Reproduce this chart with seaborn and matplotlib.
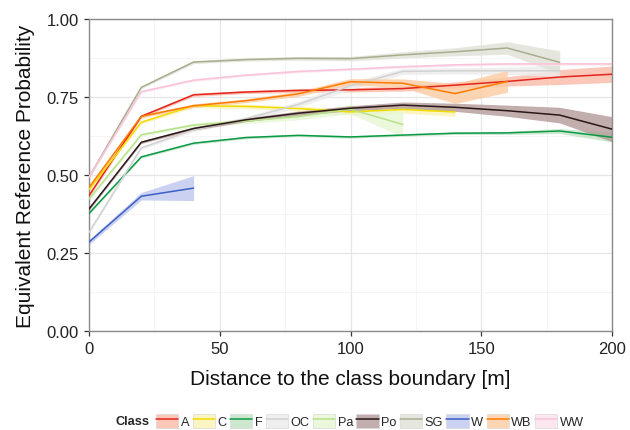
import numpy as np
import pandas as pd
import matplotlib
matplotlib.use("Agg")
import matplotlib.pyplot as plt
from matplotlib.patches import Patch
from matplotlib.lines import Line2D
from matplotlib.ticker import MultipleLocator
import seaborn as sns

# ---- data ----
classes = ["A", "C", "F", "OC", "Pa", "Po", "SG", "W", "WB", "WW"]

dist_A = [0, 20, 40, 60, 80, 100, 120, 140, 160, 180, 200]
val_A = [0.434, 0.688, 0.757, 0.766, 0.771, 0.773, 0.777, 0.788, 0.800, 0.814, 0.823]
hw_A = [0.006, 0.005, 0.005, 0.005, 0.006, 0.007, 0.008, 0.010, 0.015, 0.024, 0.026]

dist_C = [0, 20, 40, 60, 80, 100, 120, 140]
val_C = [0.453, 0.669, 0.722, 0.720, 0.713, 0.702, 0.710, 0.702]
hw_C = [0.006, 0.005, 0.006, 0.007, 0.008, 0.010, 0.012, 0.014]

dist_F = [0, 20, 40, 60, 80, 100, 120, 140, 160, 180, 200]
val_F = [0.377, 0.558, 0.602, 0.620, 0.627, 0.622, 0.628, 0.634, 0.635, 0.641, 0.621]
hw_F = [0.004, 0.004, 0.004, 0.004, 0.004, 0.004, 0.004, 0.004, 0.005, 0.008, 0.015]

dist_OC = [0, 20, 40, 60, 80, 100, 120, 140, 160, 180]
val_OC = [0.316, 0.587, 0.645, 0.680, 0.726, 0.786, 0.832, 0.834, 0.834, 0.834]
hw_OC = [0.005, 0.005, 0.006, 0.008, 0.010, 0.012, 0.010, 0.010, 0.012, 0.018]

dist_Pa = [0, 20, 40, 60, 80, 100, 120]
val_Pa = [0.423, 0.629, 0.660, 0.673, 0.687, 0.711, 0.662]
hw_Pa = [0.005, 0.005, 0.006, 0.008, 0.010, 0.015, 0.040]

dist_Po = [0, 20, 40, 60, 80, 100, 120, 140, 160, 180, 200]
val_Po = [0.391, 0.605, 0.649, 0.677, 0.698, 0.714, 0.724, 0.717, 0.706, 0.692, 0.647]
hw_Po = [0.004, 0.004, 0.005, 0.006, 0.007, 0.008, 0.010, 0.013, 0.018, 0.025, 0.040]

dist_SG = [0, 20, 40, 60, 80, 100, 120, 140, 160, 180]
val_SG = [0.493, 0.781, 0.862, 0.870, 0.874, 0.873, 0.885, 0.895, 0.907, 0.861]
hw_SG = [0.004, 0.004, 0.005, 0.005, 0.006, 0.007, 0.010, 0.013, 0.020, 0.037]

dist_W = [0, 20, 40]
val_W = [0.285, 0.432, 0.458]
hw_W = [0.008, 0.012, 0.040]

dist_WB = [0, 20, 40, 60, 80, 100, 120, 140, 160]
val_WB = [0.460, 0.688, 0.722, 0.738, 0.760, 0.799, 0.794, 0.761, 0.800]
hw_WB = [0.005, 0.005, 0.006, 0.006, 0.008, 0.010, 0.014, 0.032, 0.035]

dist_WW = [0, 20, 40, 60, 80, 100, 120, 140, 160, 180, 200]
val_WW = [0.493, 0.767, 0.804, 0.820, 0.832, 0.839, 0.847, 0.853, 0.856, 0.856, 0.856]
hw_WW = [0.004] * 11

line_colors = ["#e3241b", "#f2dc00", "#0a9a46", "#d2d2d2", "#b8e28a",
               "#2a1717", "#a8ad8e", "#3b5fc4", "#ff7b00", "#f9c3d9"]
fill_colors = ["#fbb9a6", "#fbf3b5", "#c2e1c4", "#ececec", "#e6f7d3",
               "#b39a97", "#dfe2d6", "#bfc6ee", "#fccca1", "#fce2ec"]

series = {
    "A": (dist_A, val_A, hw_A), "C": (dist_C, val_C, hw_C),
    "F": (dist_F, val_F, hw_F), "OC": (dist_OC, val_OC, hw_OC),
    "Pa": (dist_Pa, val_Pa, hw_Pa), "Po": (dist_Po, val_Po, hw_Po),
    "SG": (dist_SG, val_SG, hw_SG), "W": (dist_W, val_W, hw_W),
    "WB": (dist_WB, val_WB, hw_WB), "WW": (dist_WW, val_WW, hw_WW),
}

rows = []
for c in classes:
    d, v, h = series[c]
    for di, vi, hi in zip(d, v, h):
        rows.append({"Class": c, "dist": di, "val": vi, "lo": vi - hi, "hi": vi + hi})
df = pd.DataFrame(rows)

# ---- style ----
sns.set_theme(style="white")
plt.rcParams["font.family"] = ["Liberation Sans", "DejaVu Sans"]

fig = plt.figure(figsize=(6.3, 4.31), dpi=100)
ax = fig.add_axes([89 / 630, 1 - 332 / 431, (612 - 89) / 630, (332 - 20) / 431])

# bands
fill_alpha = 0.8
for c, fc in zip(classes, fill_colors):
    sub = df[df["Class"] == c]
    ax.fill_between(sub["dist"], sub["lo"], sub["hi"], color=fc, alpha=fill_alpha,
                    linewidth=0, zorder=1)

sns.lineplot(data=df, x="dist", y="val", hue="Class", hue_order=classes,
             palette=dict(zip(classes, line_colors)), errorbar=None,
             linewidth=1.1, ax=ax, legend=False, zorder=3)

ax.set_xlim(0, 200)
ax.set_ylim(0, 1)
ax.xaxis.set_major_locator(MultipleLocator(50))
ax.xaxis.set_minor_locator(MultipleLocator(25))
ax.yaxis.set_major_locator(MultipleLocator(0.25))
ax.yaxis.set_minor_locator(MultipleLocator(0.125))
ax.set_yticklabels([f"{t:.2f}" for t in ax.get_yticks()])
ax.grid(which="major", color="#e6e6e6", linewidth=0.9, zorder=0)
ax.grid(which="minor", color="#f4f4f4", linewidth=0.6, zorder=0)
ax.set_axisbelow(True)
for s in ax.spines.values():
    s.set_color("#8a8a8a")
    s.set_linewidth(1.0)
ax.tick_params(axis="both", which="major", direction="out", length=3.5, width=0.9,
               color="#333333", labelsize=12, labelcolor="#222222", pad=4,
               bottom=True, left=True)
ax.tick_params(which="minor", length=0)
ax.set_xlabel("Distance to the class boundary [m]", fontsize=15, color="#111111", labelpad=9)
ax.set_ylabel("Equivalent Reference Probability", fontsize=15, color="#111111", labelpad=8)

# legend
handles = [(Patch(facecolor=fc, edgecolor="#d8d8d8", alpha=fill_alpha, linewidth=0.6),
            Line2D([], [], color=lc, lw=1.1))
           for lc, fc in zip(line_colors, fill_colors)]
fig.text(150 / 630, 1 - 422 / 431, "Class", fontsize=9.2, fontweight="bold",
         ha="right", va="center")
leg = fig.legend(handles, classes, ncol=10, loc="center left",
                 bbox_to_anchor=(156 / 630, 1 - 422 / 431), frameon=False, fontsize=9.2,
                 handlelength=1.75, handleheight=1.4, handletextpad=0.2, columnspacing=0.25,
                 borderpad=0, borderaxespad=0)

fig.savefig("out.png", dpi=100)
